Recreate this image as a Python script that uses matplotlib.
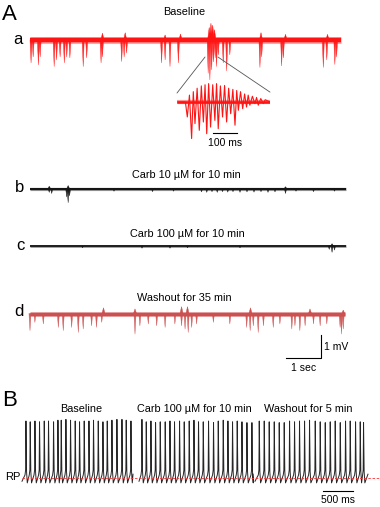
import matplotlib
matplotlib.use("Agg")
import matplotlib.pyplot as plt
from matplotlib.patches import ConnectionPatch
import numpy as np

plt.rcParams['font.family'] = ['Liberation Sans', 'DejaVu Sans']

W, H = 380, 507

# ---------------- DATA ----------------
# Panel A: extracellular traces; events = (time s, downward depth mV)
a_ev_t = [0.03, 0.09, 0.24, 0.29, 0.69, 0.76, 0.86, 0.98, 1.05, 1.14, 1.52, 1.62, 2.03, 2.07,
          2.62, 2.69, 2.76, 3.76, 3.86, 4.00, 4.24, 5.09, 5.14, 5.19, 5.24, 5.29, 5.33, 5.38,
          5.52, 5.62, 5.71, 6.57, 6.62, 7.19, 7.24, 8.38, 8.48, 8.71, 8.76]
a_ev_d = [1.00, 0.74, 1.09, 0.74, 1.16, 0.87, 0.74, 1.00, 0.74, 0.78, 1.16, 0.78, 1.00, 0.74,
          0.94, 0.74, 0.57, 1.00, 0.87, 1.16, 1.00, 1.45, 1.74, 1.30, 0.96, 0.78, 1.16, 0.65,
          1.00, 1.35, 0.65, 1.20, 0.74, 1.13, 0.78, 1.20, 0.87, 1.07, 0.74]
a_up_t = [2.07, 2.72, 3.86, 4.30, 5.12, 5.17, 5.22, 5.27, 6.60, 7.30, 8.50]
a_up_h = [0.30, 0.32, 0.22, 0.26, 0.55, 0.73, 0.65, 0.45, 0.32, 0.25, 0.25]
a_dur = 8.89

b_ev_t = [0.55, 0.62, 1.05, 1.09, 1.13, 2.40, 3.50, 4.10, 4.90, 5.05, 5.20, 5.35, 5.50, 5.65,
          5.80, 6.00, 6.20, 6.40, 6.60, 6.80, 7.00, 7.30, 7.60, 8.10, 8.70]
b_ev_d = [0.15, 0.20, 0.35, 0.60, 0.30, 0.10, 0.12, 0.10, 0.13, 0.15, 0.12, 0.15, 0.12, 0.14,
          0.12, 0.15, 0.13, 0.14, 0.12, 0.15, 0.13, 0.20, 0.10, 0.12, 0.10]
b_up_t = [0.55, 1.09, 7.30]
b_up_h = [0.12, 0.15, 0.10]
b_dur = 9.03

c_ev_t = [1.50, 3.20, 4.00, 4.50, 6.00, 8.55, 8.63, 8.70]
c_ev_d = [0.08, 0.10, 0.10, 0.08, 0.08, 0.15, 0.28, 0.18]
c_up_t = [8.63]
c_up_h = [0.10]
c_dur = 9.03

d_ev_t = [0.00, 0.14, 0.38, 0.81, 0.95, 1.19, 1.38, 1.52, 1.76, 1.90, 2.05, 3.00, 3.14, 3.38,
          3.62, 3.86, 4.14, 4.33, 4.43, 4.52, 4.62, 4.76, 5.24, 5.71, 6.19, 6.29, 6.38, 6.52,
          6.67, 6.95, 7.14, 7.48, 7.57, 7.71, 7.86, 8.10, 8.29, 8.48, 8.86, 8.90, 8.95]
d_ev_d = [0.75, 0.39, 0.46, 0.61, 0.75, 0.61, 0.83, 0.68, 0.54, 0.61, 0.39, 0.90, 0.54, 0.46,
          0.54, 0.61, 0.46, 0.54, 0.68, 0.83, 0.61, 0.46, 0.39, 0.46, 0.61, 0.75, 0.54, 0.83,
          0.54, 0.61, 0.46, 0.68, 0.54, 0.75, 0.54, 0.46, 0.54, 0.46, 0.61, 0.90, 0.68]
d_up_t = [2.10, 3.00, 4.33, 4.50, 6.30, 8.00, 8.95]
d_up_h = [0.25, 0.20, 0.30, 0.30, 0.25, 0.20, 0.15]
d_dur = 9.00

# Inset: burst oscillation (time ms, trough depth mV, peak height mV)
ins_trough_t = [43, 61, 75, 93, 110, 124, 140, 158, 172, 190, 207, 224, 242, 256, 274, 290,
                304, 325, 339, 360]
ins_trough_d = [0.65, 1.59, 0.94, 1.23, 0.87, 1.38, 1.09, 0.80, 1.16, 0.65, 0.87, 0.51, 1.01,
                0.36, 0.29, 0.22, 0.14, 0.07, 0.14, 0.07]
ins_peak_h = [0.30, 0.45, 0.60, 0.70, 0.75, 0.80, 0.75, 0.80, 0.70, 0.72, 0.60, 0.55, 0.50,
              0.45, 0.35, 0.30, 0.25, 0.20, 0.15, 0.10]
ins_dur = 388

# Panel B: spike times (ms from segment start) and peak potentials (mV)
seg1_t = [62, 133, 212, 288, 367, 438, 522, 595, 650, 728, 805, 883, 955, 1033, 1112, 1188,
          1267, 1345, 1417, 1495, 1578, 1662, 1733, 1812]
seg1_pk = [10, 9, 10, 9, 10, 10, 9, 11, 11, 12, 11, 10, 9, 10, 10, 11, 10, 9, 10, 11, 12, 12,
           11, 10]
seg2_t = [45, 117, 195, 272, 350, 433, 512, 588, 672, 750, 833, 912, 988, 1067, 1155, 1238,
          1317, 1400, 1478, 1555, 1633, 1712, 1795, 1878]
seg2_pk = [12, 9, 10, 8, 9, 9, 10, 9, 10, 9, 10, 11, 9, 9, 10, 8, 10, 11, 10, 9, 10, 9, 8, 8]
seg3_t = [67, 150, 233, 317, 400, 483, 572, 655, 738, 822, 905, 1000, 1083, 1167, 1250, 1333,
          1417, 1505, 1583, 1672, 1750, 1805]
seg3_pk = [10, 10, 9, 9, 8, 8, 10, 9, 10, 10, 11, 10, 9, 8, 9, 10, 8, 10, 10, 9, 9, 8]
seg_dur = [1850, 1900, 1883]
rp_mv = -60
B_titles = ["Baseline", "Carb 100 µM for 10 min", "Washout for 5 min"]

# ---------------- FIGURE ----------------
fig = plt.figure(figsize=(W / 100, H / 100), dpi=100)


def rect(x0, y0, x1, y1):
    return [x0 / W, 1 - y1 / H, (x1 - x0) / W, (y1 - y0) / H]


def ftext(x, y, s, **kw):
    fig.text(x / W, 1 - y / H, s, **kw)


# Panel A axes: 35 px per second, 23 px per mV
axA = fig.add_axes(rect(0, 0, 380, 400))
axA.set_xlim(-30 / 35, 350 / 35)
axA.set_ylim(-400 / 23, 0)
axA.axis('off')

offs = {'a': -40 / 23, 'b': -189 / 23, 'c': -246 / 23, 'd': -313.5 / 23}


def draw_trace(ax, off, dur, ev_t, ev_d, up_t, up_h, color, band_lw, half_w):
    ax.plot([0, dur], [off, off], color=color, lw=band_lw * 1.5, alpha=0.45,
            solid_capstyle='butt')
    ax.plot([0, dur], [off, off], color=color, lw=band_lw, solid_capstyle='butt')
    for t, d in zip(ev_t, ev_d):
        ax.fill([t - half_w, t, t + half_w], [off, off - d, off], color=color, lw=0.3,
                alpha=0.9)
    for t, h in zip(up_t, up_h):
        ax.fill([t - 1.5 * half_w, t, t + 1.5 * half_w], [off, off + h, off], color=color,
                lw=0.3)


draw_trace(axA, offs['a'], a_dur, a_ev_t, a_ev_d, a_up_t, a_up_h, '#ff1414', 3.2, 0.03)
draw_trace(axA, offs['b'], b_dur, b_ev_t, b_ev_d, b_up_t, b_up_h, '#151515', 1.5, 0.03)
draw_trace(axA, offs['c'], c_dur, c_ev_t, c_ev_d, c_up_t, c_up_h, '#151515', 1.3, 0.03)
draw_trace(axA, offs['d'], d_dur, d_ev_t, d_ev_d, d_up_t, d_up_h, '#cc5050', 2.4, 0.03)

# scale bar 1 sec / 1 mV
sb_t0, sb_v = (286 - 30) / 35, -358 / 23
axA.plot([sb_t0, sb_t0 + 1, sb_t0 + 1], [sb_v, sb_v, sb_v + 1], color='black', lw=0.8)

# Inset axes: 0.24 px per ms, 23 px per mV
axI = fig.add_axes(rect(177, 75, 270, 145))
axI.set_xlim(0, ins_dur)
axI.set_ylim((102 - 145) / 23, (102 - 75) / 23)
axI.axis('off')
xs, ys = [0, ins_trough_t[0] - 8], [0, 0]
for i, (tt, dd) in enumerate(zip(ins_trough_t, ins_trough_d)):
    xs.append(tt)
    ys.append(-dd)
    nxt = ins_trough_t[i + 1] if i + 1 < len(ins_trough_t) else tt + 16
    xs.append((tt + nxt) / 2)
    ys.append(ins_peak_h[i])
xs += [ins_dur]
ys += [0]
axI.plot([0, ins_dur], [0, 0], color='#ff1414', lw=3.0, alpha=0.45, solid_capstyle='butt')
axI.plot([0, ins_dur], [0, 0], color='#ff1414', lw=1.8, solid_capstyle='butt')
axI.plot(xs, ys, color='#ff1414', lw=0.8)
axI.plot([150, 250], [-1.35, -1.35], color='black', lw=0.8, clip_on=False)

burst_t0, burst_t1 = 5.0, 5.37
for (ta, tb, vb) in [(burst_t0, 0, 0.39), (burst_t1, ins_dur, 0.43)]:
    cp = ConnectionPatch(xyA=(ta, offs['a'] - 0.74), coordsA=axA.transData,
                         xyB=(tb, vb), coordsB=axI.transData, color='#555555', lw=0.6)
    fig.add_artist(cp)

# Panel B axes: 0.06 px per ms, 0.814 px per mV
axB = fig.add_axes(rect(0, 405, 380, 507))
axB.set_xlim(-22 / 0.06, 358 / 0.06)
axB.set_ylim((478 - 507) / 0.814 + rp_mv, (478 - 405) / 0.814 + rp_mv)
axB.axis('off')
seg_off = [0, (139 - 22) / 0.06, (255 - 22) / 0.06]
thr, trough = -56.3, -66.0
for off, st, pk, dur in zip(seg_off, [seg1_t, seg2_t, seg3_t],
                            [seg1_pk, seg2_pk, seg3_pk], seg_dur):
    xs, ys = [off], [trough + 2]
    for tt, pp in zip(st, pk):
        xs += [off + tt - 12, off + tt - 2, off + tt + 4, off + tt + 14, off + tt + 26]
        ys += [thr, thr + 6, pp, thr + 4, trough]
    xs.append(off + dur)
    ys.append(thr + 1)
    axB.plot(xs, ys, color='#262626', lw=0.7)
axB.plot([0, 358 / 0.06], [rp_mv, rp_mv], color='#ff3030', lw=0.6, ls=(0, (3, 2)))
sbx = (323 - 22) / 0.06
sby = (478 - 491) / 0.814 + rp_mv
axB.plot([sbx, sbx + 500], [sby, sby], color='black', lw=0.8)

# ---------------- TEXT ----------------
ftext(2, 15, "A", fontsize=16, ha='left', va='center')
ftext(184, 12, "Baseline", fontsize=7.8, ha='center', va='center')
ftext(18, 40, "a", fontsize=12, ha='center', va='center')
ftext(20, 188, "b", fontsize=12, ha='center', va='center')
ftext(20, 245, "c", fontsize=12, ha='center', va='center')
ftext(19, 312, "d", fontsize=12, ha='center', va='center')
ftext(186, 175, "Carb 10 µM for 10 min", fontsize=7.8, ha='center', va='center')
ftext(187, 234, "Carb 100 µM for 10 min", fontsize=7.8, ha='center', va='center')
ftext(184, 298, "Washout for 35 min", fontsize=7.8, ha='center', va='center')
ftext(225, 143, "100 ms", fontsize=7.5, ha='center', va='center')
ftext(324, 347, "1 mV", fontsize=7.5, ha='left', va='center')
ftext(304, 368, "1 sec", fontsize=7.5, ha='center', va='center')
ftext(2, 401, "B", fontsize=16, ha='left', va='center')
for cx, s in zip([81, 194, 308], B_titles):
    ftext(cx, 409, s, fontsize=7.8, ha='center', va='center')
ftext(21, 477, "RP", fontsize=8, ha='right', va='center')
ftext(338, 500, "500 ms", fontsize=7.5, ha='center', va='center')

fig.savefig("out.png", dpi=100)
